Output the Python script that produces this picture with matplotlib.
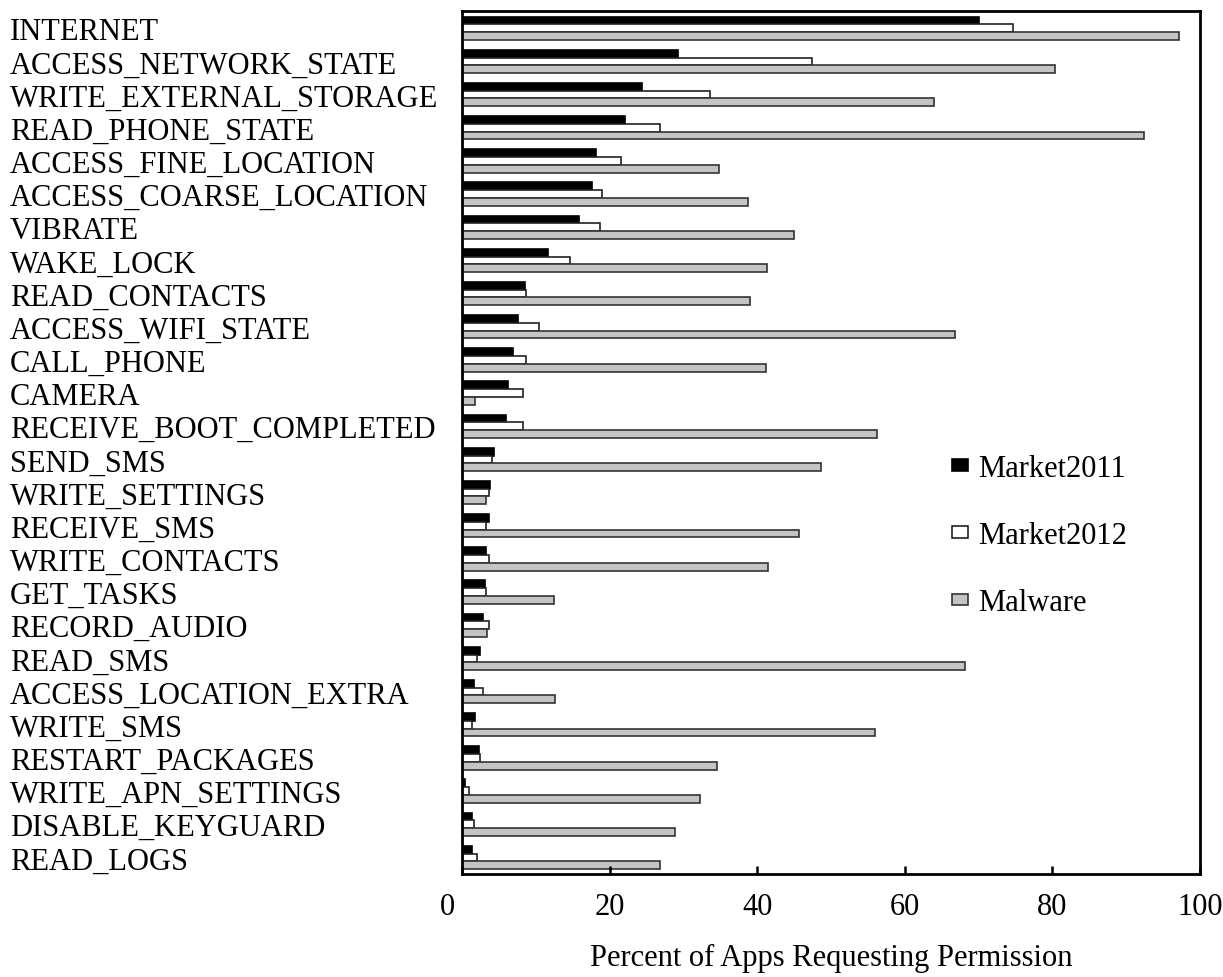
import numpy as np
import matplotlib
matplotlib.use("Agg")
import matplotlib.pyplot as plt
from matplotlib.transforms import ScaledTranslation

permissions = [
    "INTERNET", "ACCESS_NETWORK_STATE", "WRITE_EXTERNAL_STORAGE", "READ_PHONE_STATE",
    "ACCESS_FINE_LOCATION", "ACCESS_COARSE_LOCATION", "VIBRATE", "WAKE_LOCK",
    "READ_CONTACTS", "ACCESS_WIFI_STATE", "CALL_PHONE", "CAMERA",
    "RECEIVE_BOOT_COMPLETED", "SEND_SMS", "WRITE_SETTINGS", "RECEIVE_SMS",
    "WRITE_CONTACTS", "GET_TASKS", "RECORD_AUDIO", "READ_SMS",
    "ACCESS_LOCATION_EXTRA", "WRITE_SMS", "RESTART_PACKAGES", "WRITE_APN_SETTINGS",
    "DISABLE_KEYGUARD", "READ_LOGS",
]
market2011 = [70.1, 29.3, 24.4, 22.1, 18.2, 17.6, 15.9, 11.6, 8.5, 7.6, 6.9, 6.3, 6.0,
              4.4, 3.8, 3.6, 3.2, 3.1, 2.9, 2.4, 1.6, 1.8, 2.3, 0.4, 1.4, 1.4]
market2012 = [74.6, 47.4, 33.6, 26.8, 21.5, 19.0, 18.7, 14.7, 8.7, 10.5, 8.7, 8.3, 8.3,
              4.1, 3.6, 3.3, 3.7, 3.3, 3.6, 2.1, 2.9, 1.4, 2.5, 1.0, 1.6, 2.0]
malware = [97.2, 80.4, 64.0, 92.4, 34.8, 38.7, 45.0, 41.3, 39.0, 66.8, 41.2, 1.8, 56.3,
           48.6, 3.3, 45.7, 41.5, 12.4, 3.4, 68.1, 12.6, 55.9, 34.6, 32.3, 28.8, 26.8]
series_names = ["Market2011", "Market2012", "Malware"]
x_ticks = [0, 20, 40, 60, 80, 100]

plt.rcParams["font.family"] = ["Liberation Serif", "DejaVu Serif"]
FS = 22

fig = plt.figure(figsize=(12.23, 9.78), dpi=100)
ax = fig.add_axes([462 / 1223, 1 - 875 / 978, (1200 - 462) / 1223, (875 - 12) / 978])

y = np.arange(len(permissions))
h = 0.235
styles = [
    dict(color="black", edgecolor="black"),
    dict(color="white", edgecolor="#222222"),
    dict(color="#c4c4c4", edgecolor="#333333"),
]
for off, vals, name, st in zip([-h, 0, h], [market2011, market2012, malware],
                               series_names, styles):
    ax.barh(y + off, vals, height=h, label=name, linewidth=1.2, **st)

ax.set_xlim(0, 100)
ax.set_ylim(25.5, -0.52)
ax.set_xticks(x_ticks)
ax.set_xticklabels([str(t) for t in x_ticks], fontsize=FS)
ax.set_yticks(y)
ax.set_yticklabels(permissions, fontsize=FS, ha="left")
ax.tick_params(axis="y", length=0, pad=452 * 0.72)
ax.tick_params(axis="x", direction="in", length=6, width=1.8, pad=13)
# pull the "0" label slightly left of the axis origin
lbl0 = ax.get_xticklabels()[0]
lbl0.set_transform(lbl0.get_transform() + ScaledTranslation(-15 / 100, 0, fig.dpi_scale_trans))

for sp in ax.spines.values():
    sp.set_linewidth(2.0)

ax.set_xlabel("Percent of Apps Requesting Permission", fontsize=FS, labelpad=16)

ax.legend(loc="center left", bbox_to_anchor=(0.648, 0.392), frameon=False, fontsize=FS,
          handlelength=0.5, handleheight=0.2, handletextpad=0.35, labelspacing=1.25,
          borderaxespad=0)

fig.savefig("out.png", dpi=100)
